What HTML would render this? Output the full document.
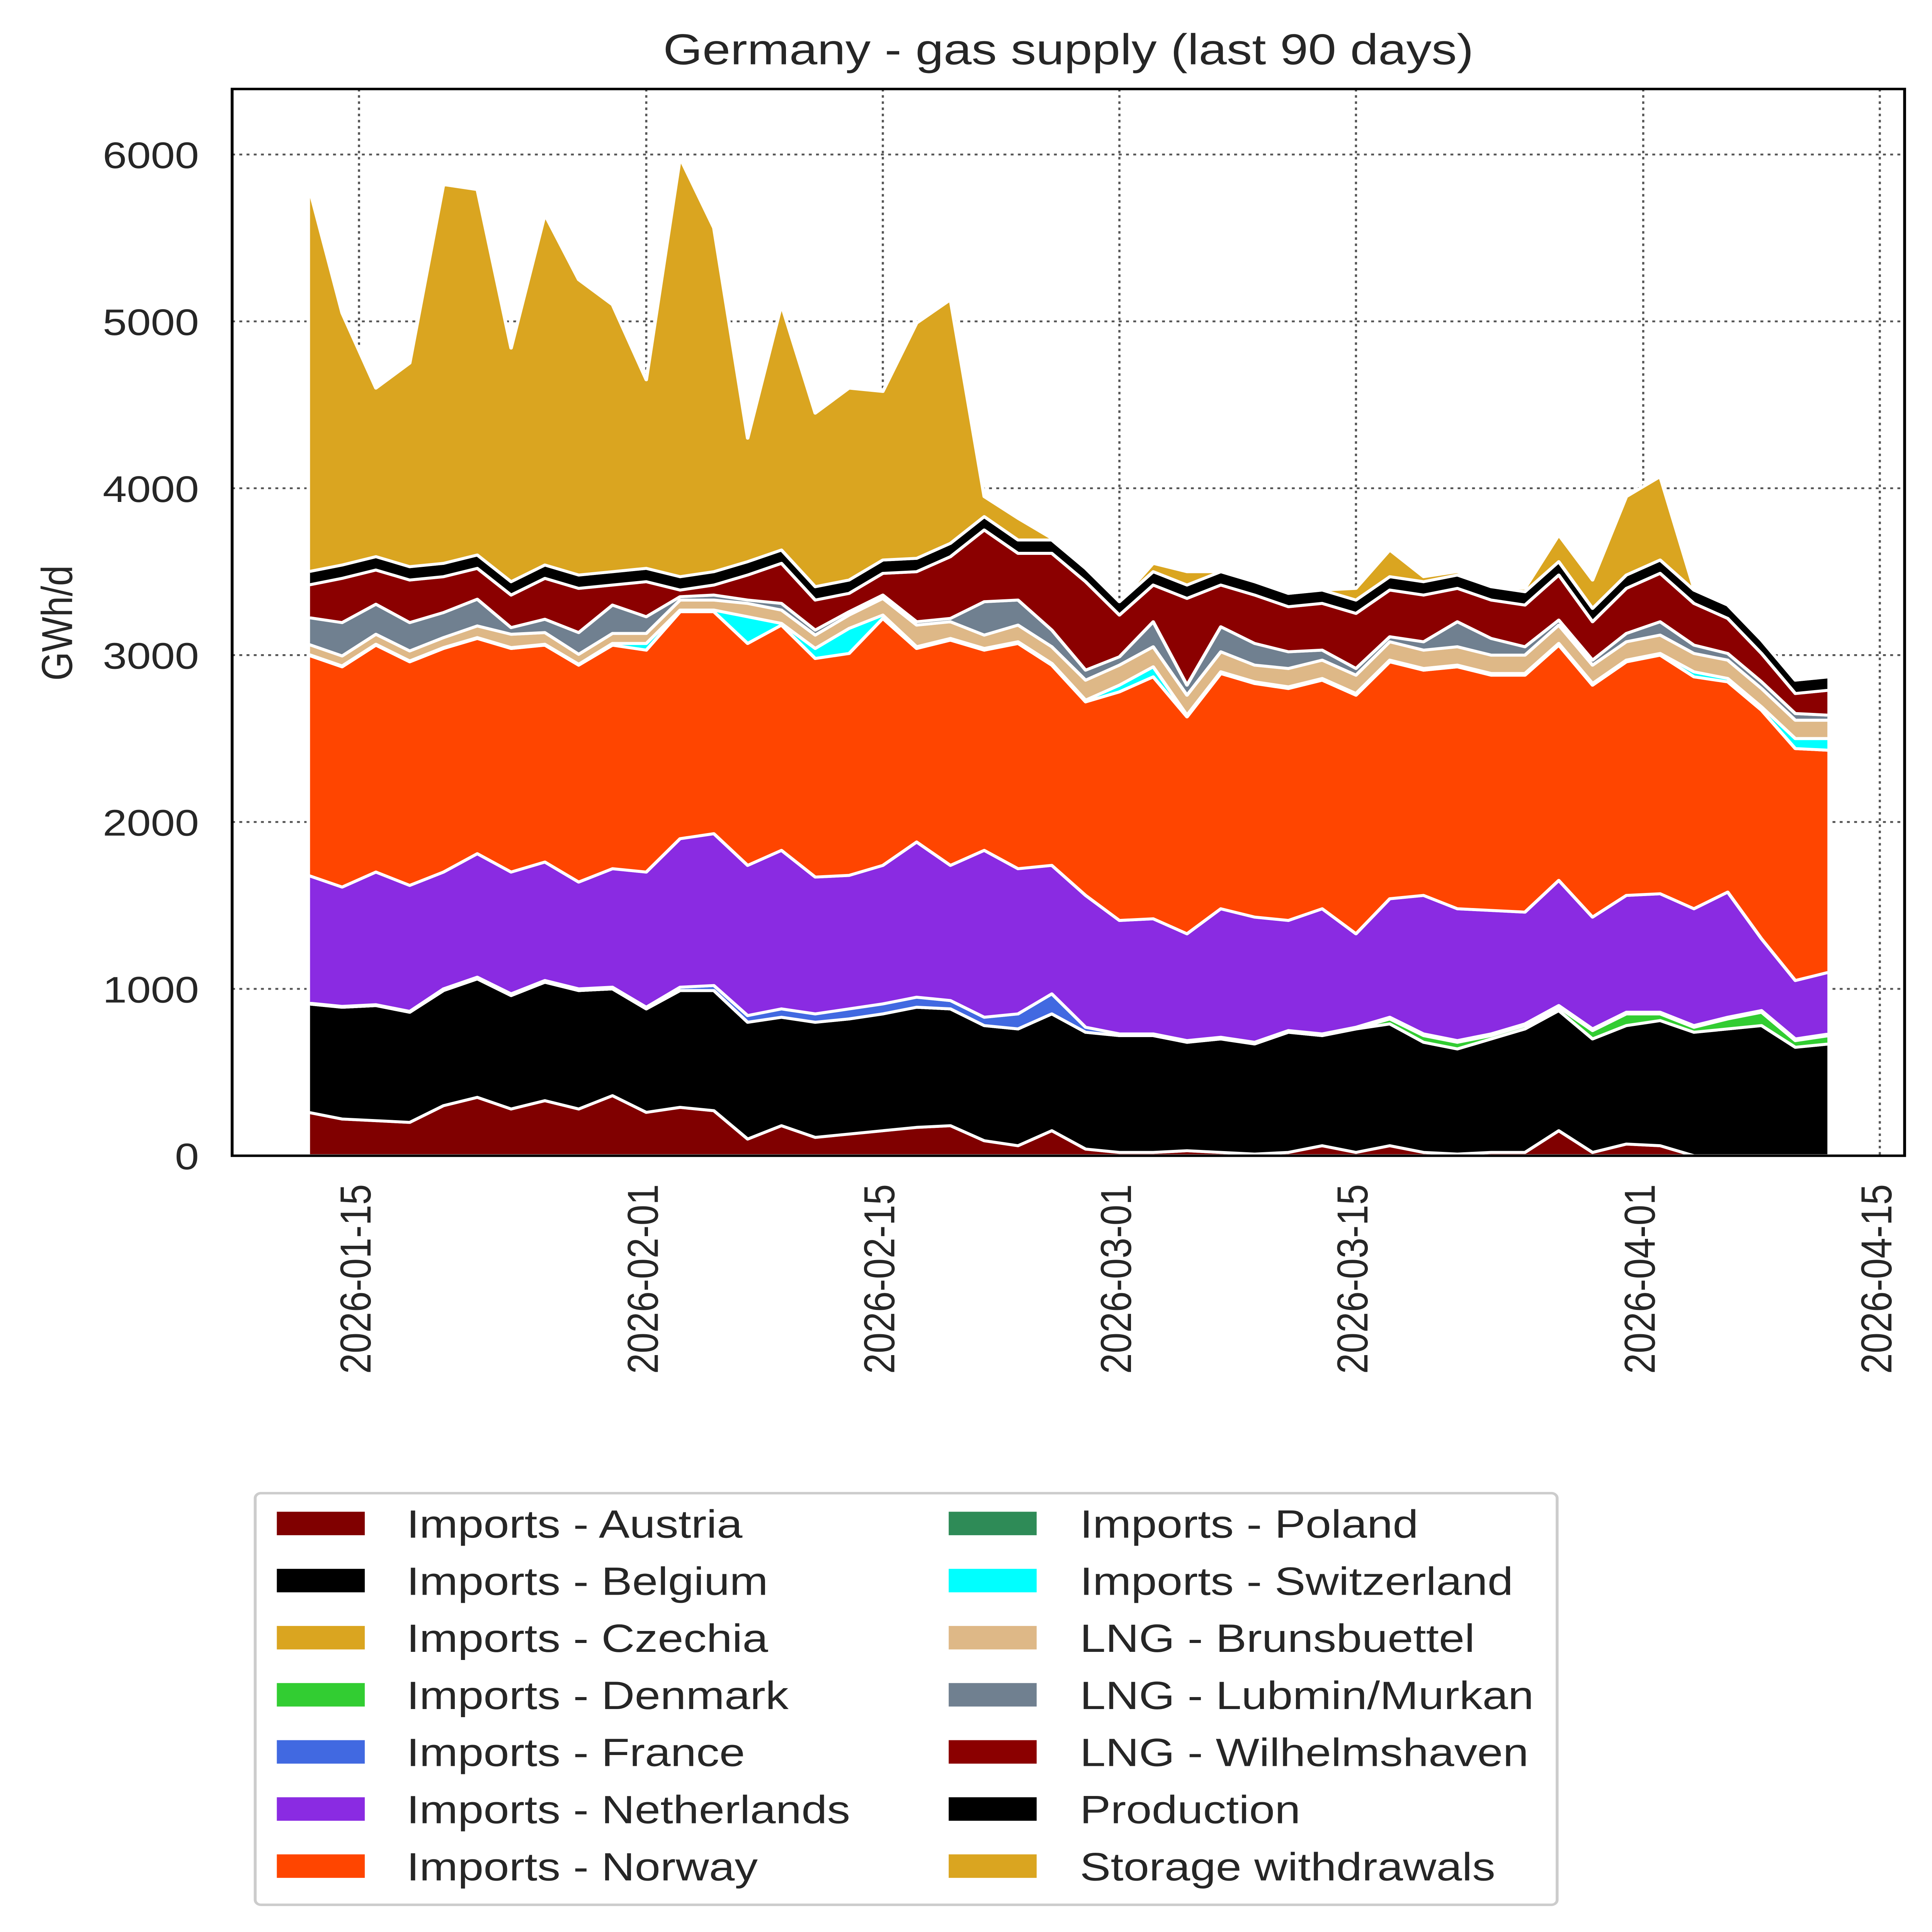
<!DOCTYPE html>
<html><head><meta charset="utf-8"><style>
html,body{margin:0;padding:0;background:#fff;overflow:hidden;width:100vw;height:100vh;}
svg{display:block;width:100vw;height:100vh;}
text{font-family:"Liberation Sans",sans-serif;fill:#262626;}
</style></head><body>
<svg id="chart" xmlns="http://www.w3.org/2000/svg" viewBox="0 0 1340 1563" preserveAspectRatio="none">
<rect x="0" y="0" width="1340" height="1563" fill="#fff"/>
<text x="741" y="52" font-size="35" text-anchor="middle">Germany - gas supply (last 90 days)</text>
<g id="grid"></g>
<g id="areas"></g>
<rect x="161" y="72" width="1160" height="863" fill="none" stroke="#000" stroke-width="2"/>
<g id="yticks"></g>
<g id="xticks"></g>
<text transform="translate(50,504) rotate(-90)" font-size="30" text-anchor="middle">GWh/d</text>
<g id="legend">
<rect x="177" y="1208" width="903" height="333" rx="4" fill="#fff" stroke="#ccc" stroke-width="2"/>
</g>
</svg>
<script>
const dates = ["2026-01-12","2026-01-14","2026-01-16","2026-01-18","2026-01-20","2026-01-22","2026-01-24","2026-01-26","2026-01-28","2026-01-30","2026-02-01","2026-02-03","2026-02-05","2026-02-07","2026-02-09","2026-02-11","2026-02-13","2026-02-15","2026-02-17","2026-02-19","2026-02-21","2026-02-23","2026-02-25","2026-02-27","2026-03-01","2026-03-03","2026-03-05","2026-03-07","2026-03-09","2026-03-11","2026-03-13","2026-03-15","2026-03-17","2026-03-19","2026-03-21","2026-03-23","2026-03-25","2026-03-27","2026-03-29","2026-03-31","2026-04-02","2026-04-04","2026-04-06","2026-04-08","2026-04-10","2026-04-12"];
const austria = [260,220,210,200,300,350,280,330,280,360,260,290,270,100,180,110,130,150,170,180,90,60,150,40,20,20,30,20,10,20,60,20,60,20,10,20,20,150,20,70,60,0,0,0,0,0];
const belgium = [650,670,690,660,690,710,680,710,710,640,620,700,720,700,650,690,690,700,720,700,690,700,700,700,700,700,650,680,660,720,660,740,730,660,630,680,740,720,680,710,750,740,760,780,650,670];
const czechia = new Array(46).fill(0);
const denmark = [0,0,0,0,0,0,0,0,0,0,0,0,0,0,0,0,0,0,0,0,0,0,0,0,0,0,0,0,0,0,0,0,30,40,40,20,20,20,50,70,40,30,60,80,40,50];
const france = [5,5,5,5,10,10,10,10,10,10,10,20,30,40,50,50,60,60,60,50,50,90,120,30,10,10,10,10,10,10,10,10,10,10,10,10,10,10,10,10,10,10,10,10,10,10];
const netherlands = [765,715,795,755,700,740,730,710,640,710,810,890,910,900,950,820,800,830,930,810,1000,870,770,790,680,690,640,770,750,660,750,560,710,830,790,740,670,750,670,700,710,700,750,430,350,370];
const norway = [1320,1320,1360,1340,1340,1290,1340,1300,1300,1340,1330,1360,1330,1330,1350,1310,1330,1480,1160,1350,1200,1350,1200,1160,1370,1450,1300,1410,1400,1390,1370,1430,1420,1350,1450,1410,1420,1410,1390,1400,1430,1390,1260,1370,1390,1330];
const poland = new Array(46).fill(0);
const switzerland = [5,5,5,5,5,5,5,5,5,10,40,10,10,160,10,60,150,20,10,10,10,10,10,10,40,60,10,10,10,10,10,10,10,10,10,10,10,10,10,10,10,30,20,20,60,70];
const brunsbuettel = [60,60,60,60,60,70,80,70,60,60,60,60,60,80,80,80,80,100,130,100,80,100,100,120,120,120,120,120,100,110,110,110,110,110,110,110,110,110,110,110,110,110,110,110,110,110];
const lubmin = [160,200,180,170,150,160,40,80,130,170,100,20,30,20,40,30,20,20,20,20,200,150,100,60,50,150,60,150,130,100,60,40,30,50,150,100,50,30,30,50,80,50,40,40,40,30];
const wilhelmshaven = [195,265,205,255,215,185,195,245,265,120,210,40,60,150,240,180,110,130,300,370,430,280,460,530,250,220,520,250,290,270,280,330,280,280,200,230,250,270,230,270,290,250,210,170,120,150];
const production = new Array(46).fill(80);
const storage = [2320,1510,1010,1220,2270,2190,1400,2100,1770,1600,1130,2510,2060,740,1470,1040,1150,1010,1410,1460,120,130,10,0,0,50,80,0,0,10,0,70,160,30,20,10,20,160,170,470,500,10,0,0,0,0];
const seriesNames = ["Imports - Austria","Imports - Belgium","Imports - Czechia","Imports - Denmark","Imports - France","Imports - Netherlands","Imports - Norway","Imports - Poland","Imports - Switzerland","LNG - Brunsbuettel","LNG - Lubmin/Murkan","LNG - Wilhelmshaven","Production","Storage withdrawals"];
const seriesValues = [austria,belgium,czechia,denmark,france,netherlands,norway,poland,switzerland,brunsbuettel,lubmin,wilhelmshaven,production,storage];
const seriesColors = ["#800000","#000000","#DAA520","#32CD32","#4169E1","#8A2BE2","#FF4500","#2E8B57","#00FFFF","#DEB887","#708090","#8B0000","#000000","#DAA520"];
const yTicks = [0,1000,2000,3000,4000,5000,6000];
const xTicks = ["2026-01-15","2026-02-01","2026-02-15","2026-03-01","2026-03-15","2026-04-01","2026-04-15"];

const NS = "http://www.w3.org/2000/svg";
const t0 = Date.UTC(2026,0,15);
function dayOf(s){const p=s.split("-");return (Date.UTC(+p[0],+p[1]-1,+p[2])-t0)/86400000;}
function xScale(s){return 249 + dayOf(s)*11.72;}
function yScale(v){return 935 - v*0.135;}
function mk(tag,attrs,parent){const e=document.createElementNS(NS,tag);for(const k in attrs)e.setAttribute(k,attrs[k]);parent.appendChild(e);return e;}

const grid=document.getElementById("grid");
const yt=document.getElementById("yticks");
yTicks.forEach(v=>{
  const l=mk("line",{x1:161,x2:1321,y1:yScale(v),y2:yScale(v),stroke:"#555","stroke-width":1.5,"stroke-dasharray":"2,3"},grid);
  
  
  const t=mk("text",{x:138,y:yScale(v)+11,"font-size":30,"text-anchor":"end"},yt);
  t.textContent=v;
  
  
});
const xt=document.getElementById("xticks");
xTicks.forEach(d=>{
  const x=xScale(d);
  const l=mk("line",{x1:x,x2:x,y1:72,y2:935,stroke:"#555","stroke-width":1.5,"stroke-dasharray":"2,3"},grid);
  
  
  const t=mk("text",{transform:"translate("+(x+8)+",958) rotate(-90)","font-size":30,"text-anchor":"end"},xt);
  t.textContent=d;
  
  
});

const areas=document.getElementById("areas");
let base=new Array(dates.length).fill(0);
seriesValues.forEach((vals,si)=>{
  const top=base.map((b,i)=>b+vals[i]);
  let d="M";
  dates.forEach((dt,i)=>{d+=xScale(dt).toFixed(2)+","+yScale(top[i]).toFixed(2)+" L";});
  for(let i=dates.length-1;i>=0;i--){d+=xScale(dates[i]).toFixed(2)+","+yScale(base[i]).toFixed(2)+(i>0?" L":" Z");}
  const p=mk("path",{d:d,fill:seriesColors[si],stroke:"#fff","stroke-width":2.4,"stroke-linejoin":"round"},areas);
  
  
  base=top;
});

const lg=document.getElementById("legend");
seriesNames.forEach((n,i)=>{
  const col=i<7?0:1, row=i%7;
  const px=col?658:192, tx=col?749:282, y=1223+row*46.2;
  const r=mk("rect",{x:px,y:y,width:61,height:19,fill:seriesColors[i]},lg);
  
  
  const t=mk("text",{x:tx,y:y+21,"font-size":32},lg);
  t.textContent=n;
  
  
});
</script>
</body></html>
